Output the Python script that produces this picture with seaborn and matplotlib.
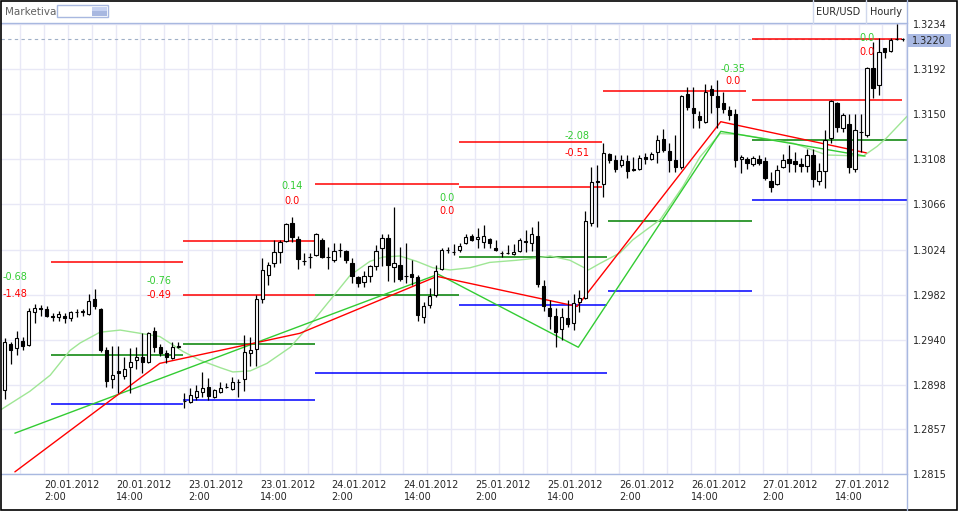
import numpy as np
import pandas as pd
import seaborn as sns
import matplotlib.pyplot as plt
import matplotlib.transforms as mtrans
from matplotlib.patches import Rectangle
from matplotlib.lines import Line2D

# EUR/USD hourly candles, one per bar (bar 0 = leftmost)
opens = [
    1.2893, 1.2936, 1.2932, 1.2939, 1.2935, 1.2966, 1.2970, 1.2969, 1.2962, 1.2961,
    1.2962, 1.2960, 1.2966, 1.2966, 1.2964, 1.2978, 1.2969, 1.2930, 1.2903, 1.2911,
    1.2906, 1.2915, 1.2921, 1.2924, 1.2919, 1.2948, 1.2933, 1.2928, 1.2923, 1.2933,
    1.2883, 1.2882, 1.2887, 1.2891, 1.2896, 1.2887, 1.2891, 1.2896, 1.2894, 1.2901,
    1.2903, 1.2928, 1.2931, 1.2978, 1.3000, 1.3011, 1.3022, 1.3032, 1.3049, 1.3034,
    1.3013, 1.3017, 1.3019, 1.3033, 1.3017, 1.3014, 1.3024, 1.3023, 1.3011, 1.2998,
    1.2994, 1.2999, 1.3009, 1.3025, 1.3035, 1.3008, 1.3010, 1.2999, 1.3001, 1.2998,
    1.2961, 1.2972, 1.2982, 1.3006, 1.3024, 1.3022, 1.3024, 1.3030, 1.3037, 1.3034,
    1.3031, 1.3034, 1.3025, 1.3021, 1.3021, 1.3020, 1.3023, 1.3032, 1.3030, 1.3037,
    1.2990, 1.2970, 1.2962, 1.2950, 1.2960, 1.2956, 1.2975, 1.2979, 1.3049, 1.3088,
    1.3085, 1.3113, 1.3107, 1.3103, 1.3106, 1.3099, 1.3099, 1.3110, 1.3108, 1.3115,
    1.3127, 1.3116, 1.3107, 1.3101, 1.3169, 1.3156, 1.3148, 1.3143, 1.3173, 1.3167,
    1.3160, 1.3154, 1.3150, 1.3108, 1.3108, 1.3104, 1.3108, 1.3106, 1.3088, 1.3085,
    1.3101, 1.3108, 1.3106, 1.3104, 1.3102, 1.3112, 1.3088, 1.3097, 1.3128, 1.3160,
    1.3137, 1.3141, 1.3099, 1.3133, 1.3131, 1.3193, 1.3177, 1.3212, 1.3209, 1.3220,
    1.3220]
highs = [
    1.2942, 1.2938, 1.2948, 1.2943, 1.2970, 1.2973, 1.2972, 1.2971, 1.2965, 1.2967,
    1.2965, 1.2967, 1.2969, 1.2969, 1.2983, 1.2987, 1.2970, 1.2933, 1.2934, 1.2934,
    1.2924, 1.2932, 1.2933, 1.2946, 1.2947, 1.2952, 1.2936, 1.2930, 1.2938, 1.2938,
    1.2890, 1.2895, 1.2898, 1.2910, 1.2904, 1.2894, 1.2901, 1.2900, 1.2905, 1.2903,
    1.2944, 1.2943, 1.2982, 1.3016, 1.3012, 1.3033, 1.3033, 1.3049, 1.3054, 1.3037,
    1.3021, 1.3021, 1.3039, 1.3035, 1.3026, 1.3030, 1.3030, 1.3024, 1.3016, 1.2999,
    1.3004, 1.3010, 1.3028, 1.3038, 1.3038, 1.3064, 1.3026, 1.3030, 1.3014, 1.3000,
    1.2975, 1.2988, 1.3010, 1.3025, 1.3026, 1.3029, 1.3030, 1.3038, 1.3038, 1.3044,
    1.3047, 1.3035, 1.3033, 1.3023, 1.3028, 1.3029, 1.3035, 1.3042, 1.3045, 1.3051,
    1.2996, 1.2977, 1.2970, 1.2970, 1.2977, 1.2983, 1.2986, 1.3060, 1.3101, 1.3103,
    1.3123, 1.3114, 1.3112, 1.3112, 1.3112, 1.3110, 1.3112, 1.3114, 1.3115, 1.3131,
    1.3136, 1.3123, 1.3131, 1.3168, 1.3175, 1.3175, 1.3153, 1.3178, 1.3177, 1.3182,
    1.3171, 1.3158, 1.3155, 1.3112, 1.3110, 1.3111, 1.3112, 1.3110, 1.3096, 1.3103,
    1.3113, 1.3121, 1.3115, 1.3109, 1.3118, 1.3118, 1.3105, 1.3135, 1.3163, 1.3161,
    1.3151, 1.3150, 1.3150, 1.3150, 1.3194, 1.3217, 1.3221, 1.3212, 1.3221, 1.3234,
    1.3221]
lows = [
    1.2885, 1.2917, 1.2926, 1.2930, 1.2934, 1.2956, 1.2962, 1.2961, 1.2957, 1.2957,
    1.2956, 1.2957, 1.2961, 1.2962, 1.2963, 1.2969, 1.2929, 1.2896, 1.2895, 1.2890,
    1.2903, 1.2890, 1.2913, 1.2909, 1.2918, 1.2929, 1.2925, 1.2918, 1.2922, 1.2932,
    1.2876, 1.2881, 1.2884, 1.2887, 1.2884, 1.2886, 1.2890, 1.2895, 1.2893, 1.2887,
    1.2892, 1.2916, 1.2916, 1.2974, 1.2991, 1.3008, 1.3011, 1.3031, 1.3031, 1.3006,
    1.3010, 1.3007, 1.3018, 1.3016, 1.3006, 1.3012, 1.3017, 1.3011, 1.2993, 1.2989,
    1.2989, 1.2994, 1.3005, 1.3009, 1.2995, 1.2994, 1.2995, 1.2993, 1.2991, 1.2957,
    1.2956, 1.2970, 1.2980, 1.3005, 1.3021, 1.3019, 1.3022, 1.3029, 1.3032, 1.3025,
    1.3025, 1.3025, 1.3023, 1.3017, 1.3020, 1.3019, 1.3022, 1.3022, 1.3023, 1.2989,
    1.2967, 1.2950, 1.2933, 1.2940, 1.2952, 1.2949, 1.2966, 1.2978, 1.3046, 1.3045,
    1.3073, 1.3105, 1.3096, 1.3101, 1.3091, 1.3097, 1.3098, 1.3104, 1.3107, 1.3105,
    1.3115, 1.3096, 1.3096, 1.3099, 1.3154, 1.3137, 1.3137, 1.3142, 1.3151, 1.3137,
    1.3151, 1.3145, 1.3101, 1.3095, 1.3099, 1.3102, 1.3103, 1.3089, 1.3078, 1.3084,
    1.3100, 1.3096, 1.3096, 1.3096, 1.3096, 1.3082, 1.3084, 1.3081, 1.3123, 1.3133,
    1.3133, 1.3095, 1.3096, 1.3115, 1.3129, 1.3165, 1.3168, 1.3202, 1.3208, 1.3219,
    1.3218]
closes = [
    1.2938, 1.2930, 1.2942, 1.2934, 1.2967, 1.2970, 1.2969, 1.2962, 1.2961, 1.2964,
    1.2960, 1.2966, 1.2966, 1.2967, 1.2976, 1.2971, 1.2930, 1.2902, 1.2907, 1.2909,
    1.2913, 1.2919, 1.2924, 1.2919, 1.2946, 1.2933, 1.2928, 1.2924, 1.2933, 1.2934,
    1.2883, 1.2889, 1.2892, 1.2895, 1.2888, 1.2893, 1.2895, 1.2896, 1.2901, 1.2901,
    1.2929, 1.2930, 1.2978, 1.3005, 1.3010, 1.3022, 1.3031, 1.3048, 1.3036, 1.3015,
    1.3013, 1.3017, 1.3038, 1.3017, 1.3017, 1.3023, 1.3024, 1.3014, 1.2999, 1.2993,
    1.2999, 1.3009, 1.3023, 1.3035, 1.3010, 1.3011, 1.2997, 1.2999, 1.2998, 1.2963,
    1.2971, 1.2981, 1.3004, 1.3024, 1.3024, 1.3022, 1.3027, 1.3036, 1.3033, 1.3036,
    1.3037, 1.3030, 1.3024, 1.3021, 1.3021, 1.3022, 1.3033, 1.3031, 1.3038, 1.2992,
    1.2971, 1.2962, 1.2947, 1.2961, 1.2955, 1.2974, 1.2979, 1.3051, 1.3087, 1.3087,
    1.3114, 1.3107, 1.3099, 1.3107, 1.3097, 1.3098, 1.3109, 1.3108, 1.3113, 1.3126,
    1.3117, 1.3107, 1.3101, 1.3167, 1.3157, 1.3151, 1.3145, 1.3171, 1.3168, 1.3157,
    1.3155, 1.3149, 1.3107, 1.3110, 1.3105, 1.3109, 1.3105, 1.3091, 1.3082, 1.3098,
    1.3107, 1.3105, 1.3104, 1.3102, 1.3112, 1.3090, 1.3097, 1.3126, 1.3162, 1.3138,
    1.3149, 1.3101, 1.3135, 1.3133, 1.3193, 1.3174, 1.3208, 1.3208, 1.3219, 1.3220,
    1.3220]
last_price = 1.3220

# moving average (light green), read at bar positions
ma_x = [-0.6, 4.2, 7.6, 10.9, 12.6, 15.9, 19.3, 22.6, 25.9, 29.8, 32.6, 36.0, 38.1, 41.0,
        43.8, 47.7, 51.0, 54.8, 57.7, 61.0, 63.2, 66.0, 68.8, 71.5, 74.4, 77.7, 81.0,
        85.5, 88.8, 91.1, 94.4, 97.5, 99.4, 102.8, 104.9, 109.5, 113.3, 116.1, 119.5,
        122.8, 126.2, 131.7, 137.3, 143.4, 145.7, 147.3, 150.7]
ma_y = [1.2875, 1.2892, 1.2907, 1.2930, 1.2937, 1.2947, 1.2949, 1.2946, 1.2943, 1.2929,
        1.2921, 1.2914, 1.2910, 1.2911, 1.2918, 1.2933, 1.2954, 1.2980, 1.3000, 1.3013,
        1.3017, 1.3018, 1.3013, 1.3007, 1.3005, 1.3007, 1.3012, 1.3014, 1.3016, 1.3018,
        1.3014, 1.3005, 1.3011, 1.3021, 1.3033, 1.3052, 1.3083, 1.3110, 1.3132, 1.3131,
        1.3128, 1.3123, 1.3112, 1.3111, 1.3120, 1.3128, 1.3148]

# zigzag lines
zz_red_x = [1.7, 25.9, 49.3, 72.2, 95.6, 119.6, 143.9]
zz_red_y = [1.2817, 1.2918, 1.2946, 1.2999, 1.2971, 1.3143, 1.3114]
zz_grn_x = [1.7, 72.4, 95.8, 119.6, 143.7]
zz_grn_y = [1.2853, 1.3001, 1.2933, 1.3134, 1.3111]

# daily levels: price, kind, from bar, to bar
lv_price = [1.3012, 1.2926, 1.2880,
            1.3032, 1.2982, 1.2936, 1.2884,
            1.3085, 1.2982, 1.2909,
            1.3124, 1.3082, 1.3017, 1.2972,
            1.3172, 1.3051, 1.2985,
            1.3220, 1.3163, 1.3126, 1.3070]
lv_kind = ['r', 'g', 'b',
           'r', 'r', 'g', 'b',
           'r', 'g', 'b',
           'r', 'r', 'g', 'b',
           'r', 'g', 'b',
           'r', 'r', 'g', 'b']
lv_from = [7.7, 7.7, 7.7,
           29.8, 29.8, 29.8, 29.8,
           51.8, 51.8, 51.8,
           75.9, 75.9, 75.9, 75.9,
           99.9, 100.8, 100.8,
           124.8, 124.8, 124.8, 124.8]
lv_to = [29.8, 29.8, 29.8,
         51.8, 51.8, 51.8, 51.8,
         75.9, 75.9, 100.6,
         99.8, 99.8, 100.6, 100.6,
         123.8, 124.8, 124.8,
         149.8, 149.8, 150.7, 150.7]

# level annotations (green above, red below)
lbl_x = [1.7, 25.8, 48.0, 73.9, 95.6, 121.6, 144.0]
lbl_top = ["-0.68", "-0.76", "0.14", "0.0", "-2.08", "-0.35", "0.0"]
lbl_top_y = [1.2998, 1.2995, 1.3083, 1.3072, 1.3130, 1.3192, 1.3221]
lbl_bot = ["-1.48", "-0.49", "0.0", "0.0", "-0.51", "0.0", "0.0"]
lbl_bot_y = [1.2983, 1.2982, 1.3069, 1.3060, 1.3114, 1.3181, 1.3208]

# axes ticks
ytick_labels = ["1.2815", "1.2857", "1.2898", "1.2940", "1.2982", "1.3024",
                "1.3066", "1.3108", "1.3150", "1.3192", "1.3234"]
date_labels = ["20.01.2012\n2:00", "20.01.2012\n14:00", "23.01.2012\n2:00",
               "23.01.2012\n14:00", "24.01.2012\n2:00", "24.01.2012\n14:00",
               "25.01.2012\n2:00", "25.01.2012\n14:00", "26.01.2012\n2:00",
               "26.01.2012\n14:00", "27.01.2012\n2:00", "27.01.2012\n14:00"]
date_pos = [6.6, 18.6, 30.6, 42.6, 54.6, 66.6, 78.6, 90.6, 102.6, 114.6, 126.6, 138.6]
grid_pos = [2.6 + 4 * k for k in range(38)]

assert len(opens) == len(highs) == len(lows) == len(closes)
assert len(ma_x) == len(ma_y)

sns.set_style("white")
plt.rcParams['font.family'] = ['DejaVu Sans']

W, H = 962, 512
AXC = '#a8b8e0'
fig = plt.figure(figsize=(W / 100, H / 100), dpi=100)


def fx(px):
    return px / W


def fy(py):
    return 1 - py / H


ax = fig.add_axes([fx(1), fy(474), fx(907) - fx(1), fy(23) - fy(474)])

df = pd.DataFrame({'i': np.arange(len(opens)), 'open': opens, 'high': highs,
                   'low': lows, 'close': closes})
df['bull'] = df['close'] >= df['open']

# levels
lv_col = {'r': '#ff0000', 'g': '#008000', 'b': '#0000ff'}
for p, k, a, b in zip(lv_price, lv_kind, lv_from, lv_to):
    ax.hlines(p, a, b, color=lv_col[k], lw=1.1, zorder=2)

ax.axhline(last_price, color='#a0b0c8', lw=0.8, ls=(0, (3, 3)), zorder=1.5)

sns.lineplot(x=ma_x, y=ma_y, ax=ax, color='#9fe695', lw=1.0, estimator=None,
             sort=False, zorder=2.5)
sns.lineplot(x=zz_grn_x, y=zz_grn_y, ax=ax, color='#33cc33', lw=1.0,
             estimator=None, sort=False, zorder=2.6)
sns.lineplot(x=zz_red_x, y=zz_red_y, ax=ax, color='#ff0000', lw=1.0,
             estimator=None, sort=False, zorder=2.7)

# candles
ax.vlines(df['i'], df['low'], df['high'], color='black', lw=0.9, zorder=3)
body_lo = df[['open', 'close']].min(axis=1)
body_h = (df['close'] - df['open']).abs()
ax.bar(df['i'], body_h, bottom=body_lo, width=0.55,
       color=np.where(df['bull'], 'white', 'black'),
       edgecolor='black', linewidth=0.8, zorder=4)

for x, t, ty, b, by in zip(lbl_x, lbl_top, lbl_top_y, lbl_bot, lbl_bot_y):
    ax.text(x, ty, t, color='#33cc33', fontsize=7, ha='center', va='center', zorder=5)
    ax.text(x, by, b, color='#ff0000', fontsize=7, ha='center', va='center', zorder=5)

ax.set_xlim(-0.62, 150.7)
ax.set_ylim(1.2815, 1.32349)

# grid and ticks
ax.set_axisbelow(True)
ax.set_xticks(grid_pos, minor=True)
ax.set_xticks(date_pos)
ax.set_xticklabels(date_labels, ha='left', fontsize=7, linespacing=1.25)
ax.set_yticks([float(v) for v in ytick_labels])
ax.set_yticklabels(ytick_labels, fontsize=7)
ax.yaxis.tick_right()
ax.grid(True, which='both', color='#e8e8f6', lw=1.0)
ax.tick_params(axis='x', which='major', length=12.2, width=1, color=AXC, pad=-8)
ax.tick_params(axis='x', which='minor', length=0)
ax.tick_params(axis='y', length=0, pad=4)
ax.set_xlabel('')
ax.set_ylabel('')
for s in ['left', 'right']:
    ax.spines[s].set_visible(False)
for s in ['top', 'bottom']:
    ax.spines[s].set_color(AXC)
    ax.spines[s].set_linewidth(1)

# right axis line, full height
fig.add_artist(Line2D([fx(907), fx(907)], [fy(0), fy(510)], color=AXC, lw=1))

# current price box
fig.add_artist(Rectangle((fx(907.5), fy(47)), fx(951) - fx(907.5), fy(34) - fy(47),
                         transform=fig.transFigure, fc='#a9b9e3', ec='none'))
fig.text(fx(912), fy(40.5), '1.3220', fontsize=7, va='center', ha='left')

# header
fig.text(fx(5), fy(12), 'Marketiva', color='#606060', fontsize=7.5, va='center', ha='left')
fig.add_artist(Rectangle((fx(57.5), fy(17)), fx(108) - fx(57.5), fy(5) - fy(17),
                         transform=fig.transFigure, fill=False, ec=AXC, lw=1))
fig.add_artist(Rectangle((fx(92), fy(16)), fx(107) - fx(92), fy(11) - fy(16),
                         transform=fig.transFigure, fc='#a8b8e0', ec='none'))
fig.add_artist(Rectangle((fx(92), fy(11)), fx(107) - fx(92), fy(6.5) - fy(11),
                         transform=fig.transFigure, fc='#c6d2f2', ec='none'))
for sx in [813, 866]:
    fig.add_artist(Line2D([fx(sx), fx(sx)], [fy(0), fy(23)], color='#d0d8ec', lw=1))
fig.text(fx(816), fy(12), 'EUR/USD', fontsize=7, va='center', ha='left')
fig.text(fx(870), fy(12), 'Hourly', fontsize=7, va='center', ha='left')

# outer frame
fig.add_artist(Rectangle((fx(0.7), fy(509.5)), fx(956.5) - fx(0.7), fy(0.5) - fy(509.5),
                         transform=fig.transFigure, fill=False, ec='black', lw=1.2))

fig.savefig('out.png', dpi=100)
